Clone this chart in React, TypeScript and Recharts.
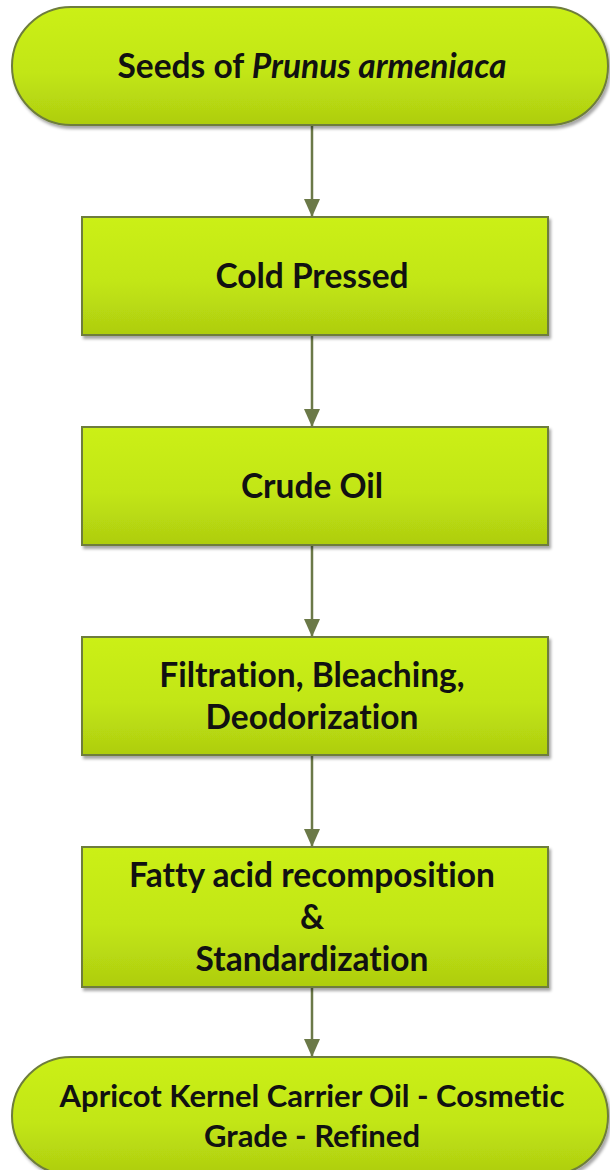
import React from 'react';
import { ScatterChart, Scatter, XAxis, YAxis } from 'recharts';

// Flow steps (text; "_..._" marks italic)
const stepLabels: string[] = [
  'Seeds of _Prunus armeniaca_',
  'Cold Pressed',
  'Crude Oil',
  'Filtration, Bleaching,\nDeodorization',
  'Fatty acid recomposition\n&\nStandardization',
  'Apricot Kernel Carrier Oil - Cosmetic\nGrade - Refined',
];
const stepKinds: string[] = ['terminal', 'process', 'process', 'process', 'process', 'terminal'];
const stepOrder: number[] = [1, 2, 3, 4, 5, 6];
const stepColumn: number[] = [1, 1, 1, 1, 1, 1];

const data = stepLabels.map((label, i) => ({
  label,
  kind: stepKinds[i],
  order: stepOrder[i],
  column: stepColumn[i],
  index: i,
}));

const FONT = 'Lato, "Open Sans", sans-serif';
const LINE_H = 42;
const EDGE = '#6e7d3c';
const ARROW = '#6b7948';

function parseSegments(line: string) {
  const parts = line.split('_');
  return parts.map((t, i) => ({ text: t, italic: i % 2 === 1 })).filter((p) => p.text.length > 0);
}

function Node(props: any) {
  const { cx, cy, payload } = props;
  if (cx == null || cy == null || !payload) return <g />;
  const lines: string[] = payload.label.split('\n');
  const longest = Math.max(...lines.map((l) => l.replace(/_/g, '').length));
  const fontSize = longest > 30 ? 31 : 33.5;
  const capHalf = fontSize * 0.36;
  const h = lines.length >= 3 ? 140 : 118;
  const top = cy - 59;
  const isTerm = payload.kind === 'terminal';
  const x = isTerm ? cx - 300 : cx - 230;
  const w = isTerm ? 596 : 466;
  const rx = isTerm ? h / 2 : 0;
  const gid = `nodeGrad${payload.index}`;
  const fid = `nodeShadow${payload.index}`;
  const boxCenter = top + h / 2;
  const lh = isTerm ? 40 : LINE_H;
  const firstBaseline = boxCenter + capHalf - ((lines.length - 1) * lh) / 2;
  return (
    <g>
      <defs>
        <linearGradient id={gid} x1="0" y1="0" x2="0" y2="1">
          <stop offset="0%" stopColor="#cbf016" />
          <stop offset="55%" stopColor="#c2e614" />
          <stop offset="100%" stopColor="#aecd10" />
        </linearGradient>
        <filter id={fid} x="-5%" y="-10%" width="110%" height="130%">
          <feDropShadow dx="2" dy="3" stdDeviation="1.6" floodColor="#000" floodOpacity="0.35" />
        </filter>
      </defs>
      {payload.index > 0 && (
        <polygon points={`${cx - 8},${top - 18} ${cx + 8},${top - 18} ${cx},${top}`} fill={ARROW} />
      )}
      <rect
        x={x}
        y={top}
        width={w}
        height={h}
        rx={rx}
        ry={rx}
        fill={`url(#${gid})`}
        stroke={EDGE}
        strokeWidth={2}
        filter={`url(#${fid})`}
      />
      <text
        textAnchor="middle"
        fontFamily={FONT}
        fontWeight={700}
        fontSize={fontSize}
        fill="#111"
        style={{ fontVariantLigatures: 'none', fontFeatureSettings: '"liga" 0, "clig" 0' }}
      >
        {lines.map((ln, k) => (
          <tspan key={k} x={cx} y={firstBaseline + k * lh}>
            {parseSegments(ln).map((s, j) => (
              <tspan key={j} fontStyle={s.italic ? 'italic' : 'normal'}>
                {s.text}
              </tspan>
            ))}
          </tspan>
        ))}
      </text>
    </g>
  );
}

const Empty = () => <g />;

export default function App() {
  return (
    <div style={{ position: 'absolute', left: 0, top: 0, width: 610, height: 1170, background: '#fff' }}>
      <ScatterChart width={610} height={1170} margin={{ top: 66, right: 0, bottom: 54, left: 14 }}>
        <XAxis type="number" dataKey="column" domain={[0, 2]} hide />
        <YAxis type="number" dataKey="order" domain={[1, 6]} reversed hide />
        <Scatter
          data={data}
          line={{ stroke: ARROW, strokeWidth: 2.5 }}
          lineType="joint"
          shape={Empty}
          isAnimationActive={false}
        />
        <Scatter data={data} shape={Node} isAnimationActive={false} />
      </ScatterChart>
    </div>
  );
}
